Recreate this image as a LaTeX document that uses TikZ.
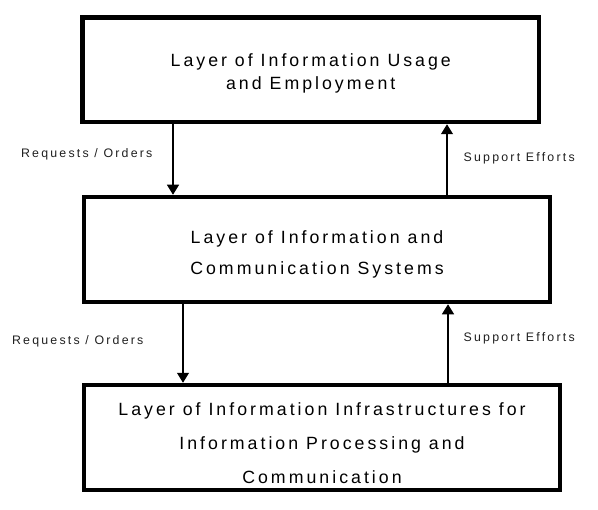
\documentclass[tikz,border=0pt]{standalone}
\usepackage{fontspec}
\setmainfont{Liberation Sans}
\newfontfamily\layerfont[LetterSpace=17]{Liberation Sans}
\newfontfamily\flowfont[LetterSpace=18]{Liberation Sans}
\usetikzlibrary{arrows.meta,positioning}

\begin{document}
\begin{tikzpicture}[
    x=1bp, y=-1bp,
    layer/.style={rectangle,draw,line width=4.5bp,inner sep=0pt},
    layertext/.style={align=center,inner sep=0pt},
    flow/.style={-{Triangle[width=12bp,length=10bp]},line width=1.2bp},
    flowlabel/.style={font=\flowfont\fontsize{12.4}{14}\selectfont,text=black!88,inner sep=0pt}
]
\useasboundingbox (0,0) rectangle (598,510);

%--- Layers ---%
\node[layer,minimum width=456.5bp,minimum height=104.5bp] (usage) at (310.75,69.75) {};
\node[layer,minimum width=466bp,minimum height=105bp] (ict) at (317,249.5) {};
\node[layer,minimum width=476bp,minimum height=105bp] (infra) at (322,437.5) {};

%--- Layer titles ---%
\node[layertext,font=\layerfont\fontsize{17.8}{23}\selectfont] (usageText) at ([yshift=-4bp]usage.center)
      {Layer of Information Usage\\and Employment};
\node[layertext,font=\layerfont\fontsize{17.8}{31}\selectfont] (ictText) at ([yshift=-5bp]ict.center)
      {Layer of Information and\\Communication Systems};
\node[layertext,font=\layerfont\fontsize{17.8}{34}\selectfont] (infraText) at ([yshift=-6bp]infra.center)
      {Layer of Information Infrastructures for\\Information Processing and\\Communication};

%--- Arrow columns ---%
\coordinate (downA) at (173,0);
\coordinate (downB) at (183,0);
\coordinate (upA) at (447,0);
\coordinate (upB) at (448,0);

%--- Requests go down, support goes up ---%
\draw[flow] (downA |- usage.south) -- node[flowlabel,pos=0.42,left=20bp] (reqA) {Requests / Orders} (downA |- ict.north);
\draw[flow] (upA |- ict.north) -- node[flowlabel,pos=0.52,right=16bp] (supA) {Support Efforts} (upA |- usage.south);
\draw[flow] (downB |- ict.south) -- node[flowlabel,pos=0.47,left=39bp] (reqB) {Requests / Orders} (downB |- infra.north);
\draw[flow] (upB |- infra.north) -- node[flowlabel,pos=0.57,right=15bp] (supB) {Support Efforts} (upB |- ict.south);

\end{tikzpicture}
\end{document}
